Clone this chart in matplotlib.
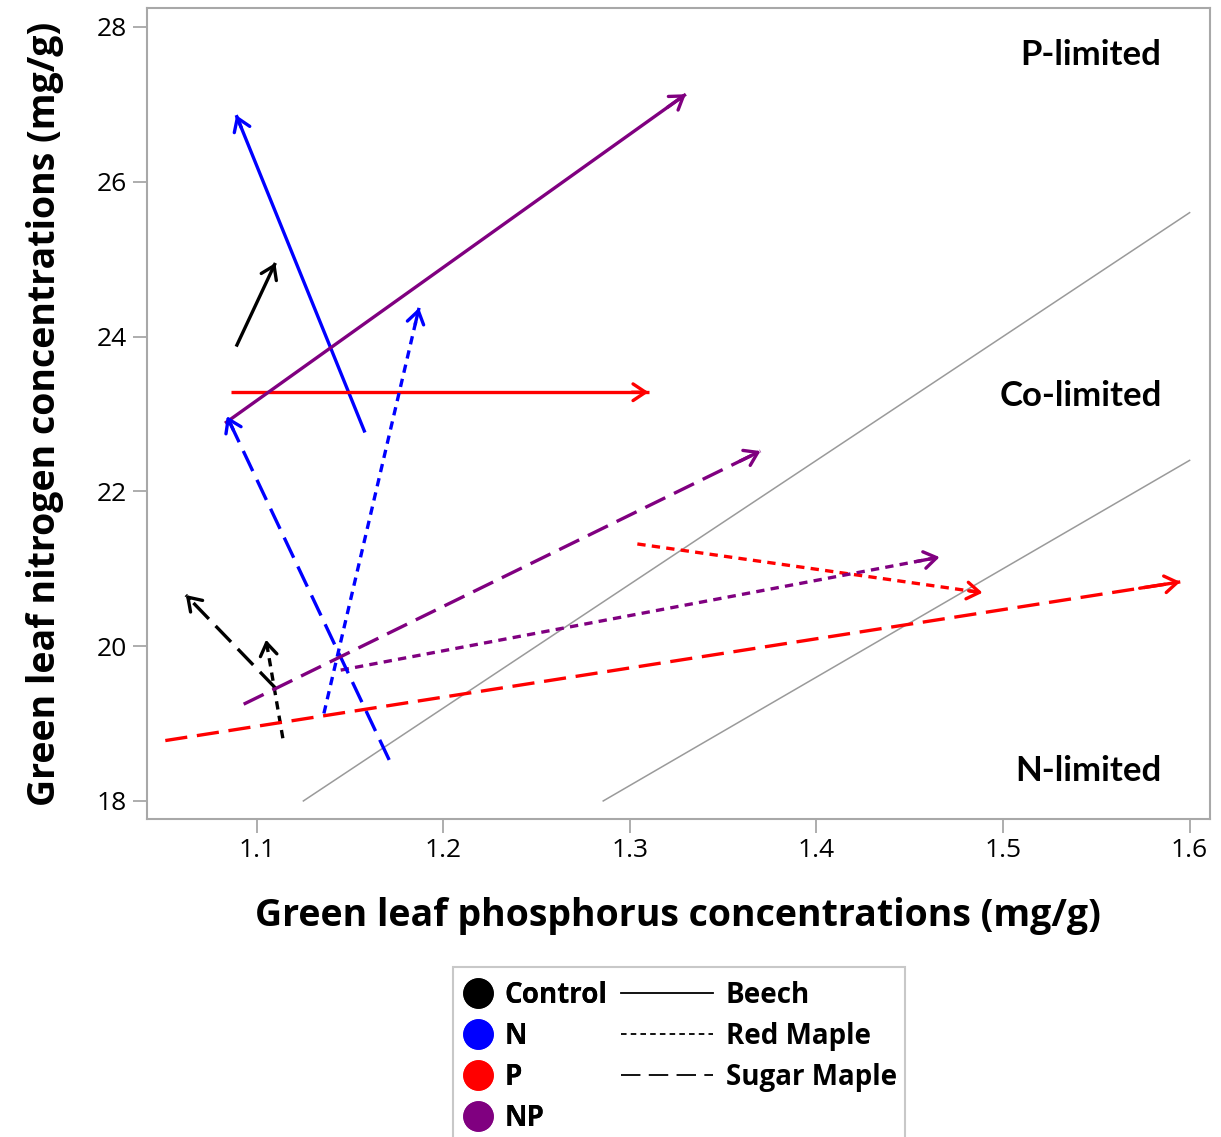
import numpy as np
import matplotlib.pyplot as plt
from matplotlib.lines import Line2D
from matplotlib.patches import Rectangle

plt.rcParams['font.family'] = 'Open Sans'
plt.rcParams['lines.scale_dashes'] = False

# Treatments, plotted in this order within every species list
treatments = ["Control", "N", "P", "NP"]
species = ["Beech", "Red Maple", "Sugar Maple"]

# Trajectories of green leaf P and N (mg/g): start -> end, one value per treatment
beech_p_start = [1.089, 1.158, 1.086, 1.083]
beech_n_start = [23.87, 22.76, 23.28, 22.88]
beech_p_end = [1.110, 1.089, 1.310, 1.330]
beech_n_end = [24.95, 26.86, 23.28, 27.13]

redmaple_p_start = [1.114, 1.136, 1.304, 1.145]
redmaple_n_start = [18.81, 19.13, 21.32, 19.69]
redmaple_p_end = [1.105, 1.187, 1.489, 1.466]
redmaple_n_end = [20.08, 24.37, 20.69, 21.15]

sugarmaple_p_start = [1.110, 1.171, 1.051, 1.093]
sugarmaple_n_start = [19.46, 18.53, 18.78, 19.25]
sugarmaple_p_end = [1.062, 1.084, 1.595, 1.370]
sugarmaple_n_end = [20.66, 22.97, 20.83, 22.52]

# N:P ratio boundaries between limitation zones
np_ratios = [14, 16]
zone_labels = ["P-limited", "Co-limited", "N-limited"]
zone_label_n = [27.64, 23.23, 18.39]

treatment_colors = ["black", "blue", "red", "purple"]
species_dashes = {"Beech": None, "Red Maple": (6, 4.5), "Sugar Maple": (16, 7)}

trajectories = {
    "Beech": (beech_p_start, beech_n_start, beech_p_end, beech_n_end),
    "Red Maple": (redmaple_p_start, redmaple_n_start, redmaple_p_end, redmaple_n_end),
    "Sugar Maple": (sugarmaple_p_start, sugarmaple_n_start, sugarmaple_p_end, sugarmaple_n_end),
}

fig = plt.figure(figsize=(12.21, 11.37), dpi=100)
ax = fig.add_axes([0.1201, 0.2797, 0.871, 0.713])

# limitation boundaries, N = ratio * P
for r in np_ratios:
    p = np.array([18.0 / r, 1.6])
    ax.plot(p, r * p, color='#9a9a9a', lw=1.1, zorder=1)

for sp in species:
    p0, n0, p1, n1 = trajectories[sp]
    for i, col in enumerate(treatment_colors):
        line, = ax.plot([p0[i], p1[i]], [n0[i], n1[i]], color=col, lw=2.4,
                        solid_capstyle='butt', dash_capstyle='butt', zorder=2)
        if species_dashes[sp] is not None:
            line.set_dashes(species_dashes[sp])
        # open arrowhead at the end of the trajectory
        back = (p1[i] - 0.04 * (p1[i] - p0[i]), n1[i] - 0.04 * (n1[i] - n0[i]))
        ax.annotate('', xy=(p1[i], n1[i]), xytext=back,
                    arrowprops=dict(arrowstyle='->,head_length=0.45,head_width=0.3',
                                    mutation_scale=20, color=col, lw=2.4,
                                    shrinkA=0, shrinkB=0), zorder=3)

for lab, yv in zip(zone_labels, zone_label_n):
    ax.text(1.585, yv, lab, ha='right', va='center', fontsize=25,
            fontweight='bold', family='Lato')

ax.set_xlim(1.041, 1.611)
ax.set_ylim(17.767, 28.24)
ax.set_xticks([1.1, 1.2, 1.3, 1.4, 1.5, 1.6])
ax.set_xticklabels(["1.1", "1.2", "1.3", "1.4", "1.5", "1.6"])
ax.set_yticks([18, 20, 22, 24, 26, 28])
ax.tick_params(direction='out', length=10, width=1.2, color='#a0a0a0',
               labelsize=19, pad=4)
for s in ax.spines.values():
    s.set_color('#a8a8a8')
    s.set_linewidth(1.5)

ax.set_xlabel("Green leaf phosphorus concentrations (mg/g)", fontsize=27,
              fontweight='bold', labelpad=24)
ax.set_ylabel("Green leaf nitrogen concentrations (mg/g)", fontsize=27,
              fontweight='bold', labelpad=24)

# legend: treatments (colour) and species (line style) in two columns
treat_handles = [Line2D([], [], marker='o', color=c, linestyle='none', markersize=21)
                 for c in treatment_colors]
species_handles = []
for sp in species:
    h = Line2D([], [], color='black', lw=1.3)
    if species_dashes[sp] is not None:
        h.set_dashes((4, 3) if sp == "Red Maple" else (14, 6))
    species_handles.append(h)

leg1 = fig.legend(treat_handles, treatments, loc='upper left',
                  bbox_to_anchor=(0.364, 0.1546), frameon=False,
                  prop={'weight': 'bold', 'size': 20}, handlelength=1.0,
                  handletextpad=0.45, labelspacing=0.435, borderpad=0.2)
leg2 = fig.legend(species_handles, species, loc='upper left',
                  bbox_to_anchor=(0.493, 0.1546), frameon=False,
                  prop={'weight': 'bold', 'size': 20}, handlelength=3.3,
                  handletextpad=0.45, labelspacing=0.435, borderpad=0.2)
fig.add_artist(leg1)
fig.patches.append(Rectangle((453 / 1221, -0.01), 452 / 1221, 0.1595,
                             transform=fig.transFigure, fill=False,
                             edgecolor='#c8c8c8', lw=1.5))

fig.savefig("out.png", dpi=100)
